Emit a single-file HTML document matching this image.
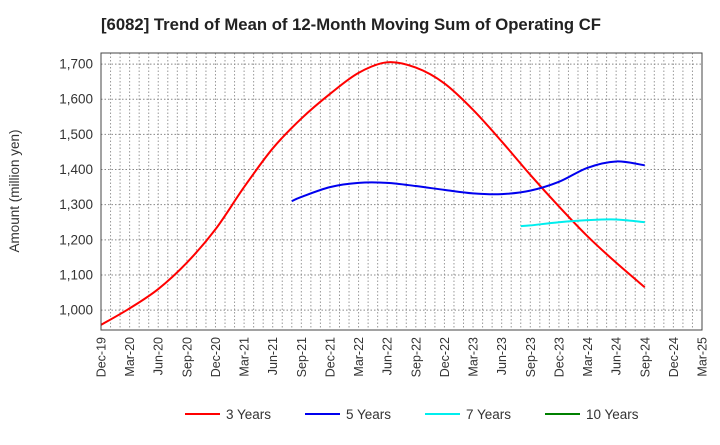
<!DOCTYPE html>
<html><head><meta charset="utf-8"><style>
body{margin:0;background:#fff;font-family:"Liberation Sans",sans-serif;}
</style></head><body>
<svg id="chart" width="720" height="440" xmlns="http://www.w3.org/2000/svg" font-family="Liberation Sans, sans-serif">
<text x="101" y="30" font-size="16.5" font-weight="bold" fill="#222" textLength="500" lengthAdjust="spacingAndGlyphs">[6082]  Trend of Mean of 12-Month Moving Sum of Operating CF</text>
<g id="grid"></g>
<g id="yaxis"></g>
<g id="xaxis"></g>
<g id="series"></g>
<rect x="101" y="53" width="601" height="277" fill="none" stroke="#444" stroke-width="1"/>
<text transform="translate(19,191) rotate(-90)" text-anchor="middle" font-size="13.5" fill="#333">Amount (million yen)</text>
<g id="legend"></g>
</svg>
<script>
const xLabels=["Dec-19","Mar-20","Jun-20","Sep-20","Dec-20","Mar-21","Jun-21","Sep-21","Dec-21","Mar-22","Jun-22","Sep-22","Dec-22","Mar-23","Jun-23","Sep-23","Dec-23","Mar-24","Jun-24","Sep-24","Dec-24","Mar-25"];
const yTicks=[1000,1100,1200,1300,1400,1500,1600,1700];
const s3m=[0,3,6,9,12,15,18,21,24,27,30,33,36,39,42,45,48,51,54,57];
const s3v=[958,1005,1060,1135,1230,1350,1460,1545,1615,1675,1705,1690,1645,1570,1480,1385,1295,1210,1135,1065];
const s5m=[20,21,24,27,30,33,36,39,42,45,48,51,54,57];
const s5v=[1310,1322,1350,1362,1362,1353,1342,1332,1330,1340,1365,1405,1423,1412];
const s7m=[44,45,48,51,54,57];
const s7v=[1239,1241,1250,1256,1258,1250];
const s10m=[];const s10v=[];
const NS="http://www.w3.org/2000/svg";
const L=101,R=702,T=53,B=330,yMin=943.5,yMax=1731.5;
const X=m=>L+m*(R-L)/63;
const Y=v=>B-(v-yMin)*(B-T)/(yMax-yMin);
function mk(t,a,p){const e=document.createElementNS(NS,t);for(const k in a)e.setAttribute(k,a[k]);p.appendChild(e);return e;}
const grid=document.getElementById('grid'),ya=document.getElementById('yaxis'),xa=document.getElementById('xaxis'),ser=document.getElementById('series'),lg=document.getElementById('legend');
for(let m=1;m<63;m++){const l=mk('line',{x1:X(m),x2:X(m),y1:T,y2:B,stroke:'#999','stroke-dasharray':'1.5,2','stroke-width':1},grid);

}
yTicks.forEach(v=>{const l=mk('line',{x1:L,x2:R,y1:Y(v),y2:Y(v),stroke:'#888','stroke-dasharray':'1.5,2','stroke-width':1},grid);


const t=mk('text',{x:L-8,y:Y(v)+4.5,'text-anchor':'end','font-size':13.5,fill:'#333'},ya);


t.textContent=v.toLocaleString('en-US');});
xLabels.forEach((s,i)=>{const x=X(i*3);const t=mk('text',{transform:`translate(${x+4.5},337) rotate(-90)`,'text-anchor':'end','font-size':12.5,fill:'#333'},xa);


t.textContent=s;});
function path(ms,vs){const p=ms.map((m,i)=>[X(m),Y(vs[i])]);if(p.length<2)return '';let d=`M${p[0][0]},${p[0][1]}`;
for(let i=0;i<p.length-1;i++){const p0=p[i-1]||p[i],p1=p[i],p2=p[i+1],p3=p[i+2]||p2;
d+=` C${p1[0]+(p2[0]-p0[0])/6},${p1[1]+(p2[1]-p0[1])/6} ${p2[0]-(p3[0]-p1[0])/6},${p2[1]-(p3[1]-p1[1])/6} ${p2[0]},${p2[1]}`;}return d;}
const series=[[s3m,s3v,'#ff0000','3 Years','line-3-years'],[s5m,s5v,'#0000ee','5 Years','line-5-years'],[s7m,s7v,'#00eeee','7 Years','line-7-years'],[s10m,s10v,'#008000','10 Years','line-10-years']];
const lx=[185,305,425,545];
series.forEach((s,i)=>{const d=path(s[0],s[1]);if(d){const p=mk('path',{d:d,fill:'none',stroke:s[2],'stroke-width':2},ser);

}
const g=mk('g',{},lg);


mk('line',{x1:lx[i],x2:lx[i]+35,y1:414,y2:414,stroke:s[2],'stroke-width':2},g);
const t=mk('text',{x:lx[i]+41,y:419,'font-size':13.5,fill:'#333'},g);t.textContent=s[3];});
</script>
</body></html>
